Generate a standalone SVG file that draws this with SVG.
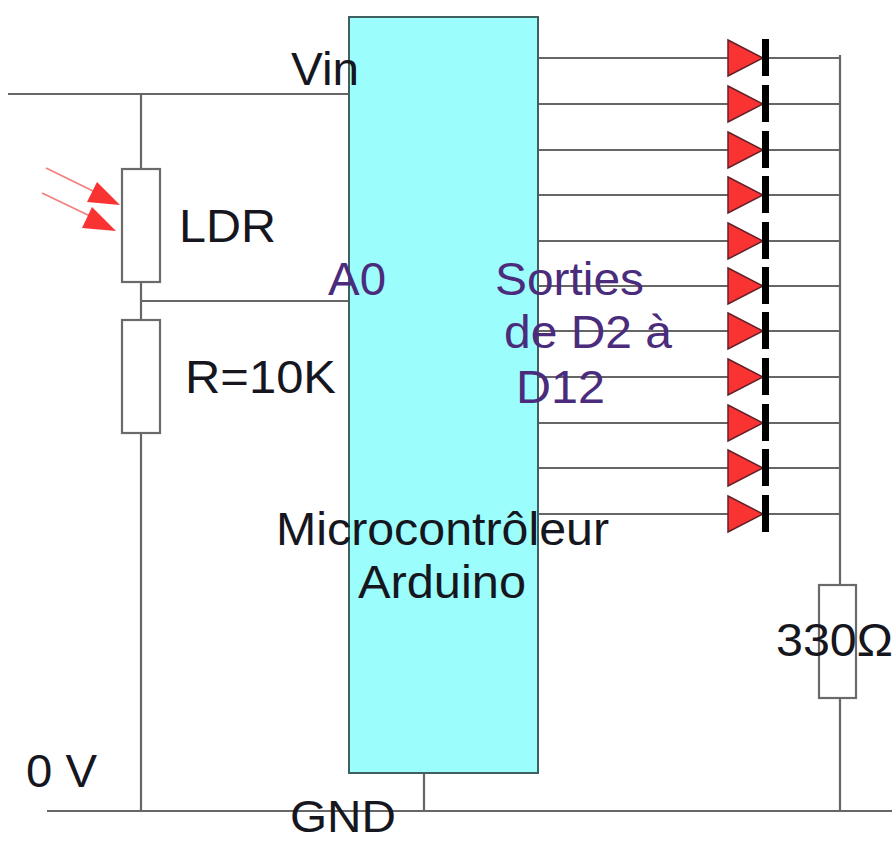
<svg xmlns="http://www.w3.org/2000/svg" width="894" height="842" viewBox="0 0 894 842">
<defs>
<style>
.w{fill:none;stroke:#666;stroke-width:2.2}
.b{fill:#fff;stroke:#6a6a6a;stroke-width:2.2}
.t{font-family:"Liberation Sans",Arial,sans-serif;font-size:46px;fill:#16161e}
.p{font-family:"Liberation Sans",Arial,sans-serif;font-size:46px;fill:#4b2c7c}
.ray{stroke:#f2807f;stroke-width:1.8;fill:none}
.head{fill:#f93232}
.tri{fill:#f93232;stroke:#63202a;stroke-width:1.5}
.bar{fill:#000}
</style>
<g id="led">
<polygon class="tri" points="0,-18 35,0 0,18"/>
<rect class="bar" x="34" y="-19" width="7" height="37"/>
</g>
</defs>
<g id="connectors">
<path class="w" d="M8 94H350M141 94V169M141 282V320M141 301H350M141 433V811M47 811H892M424 773V811M840 55V585M840 698V811"/>
<path class="w" d="M538 58H728M765 58H840M538 104H728M765 104H840M538 150H728M765 150H840M538 195H728M765 195H840M538 241H728M765 241H840M538 286H728M765 286H840M538 331H728M765 331H840M538 377H728M765 377H840M538 423H728M765 423H840M538 468H728M765 468H840M538 514H728M765 514H840"/>
</g>
<g id="arduino"><rect x="349" y="17" width="189" height="756" fill="#9cfdfd" stroke="#3f5f60" stroke-width="2"/></g>
<g id="ldr">
<rect class="b" x="122" y="169" width="38" height="113"/>
<path class="ray" d="M46 168L95 192M42 193L90 216"/>
<polygon class="head" points="97,182 120,205 87,202"/>
<polygon class="head" points="92,207 116,231 82,228"/>
</g>
<g id="r10k"><rect class="b" x="122" y="320" width="38" height="113"/></g>
<g id="r330"><rect class="b" x="819" y="585" width="37" height="113"/></g>
<g id="leds">
<use href="#led" x="728" y="58"/><use href="#led" x="728" y="104"/><use href="#led" x="728" y="150"/><use href="#led" x="728" y="195"/><use href="#led" x="728" y="241"/><use href="#led" x="728" y="286"/><use href="#led" x="728" y="331"/><use href="#led" x="728" y="377"/><use href="#led" x="728" y="423"/><use href="#led" x="728" y="468"/><use href="#led" x="728" y="514"/>
</g>
<g id="labels">
<text class="t" x="291" y="85" textLength="68" lengthAdjust="spacingAndGlyphs">Vin</text>
<text class="t" x="179" y="242" textLength="97" lengthAdjust="spacingAndGlyphs">LDR</text>
<text class="t" x="185" y="393" textLength="151" lengthAdjust="spacingAndGlyphs">R=10K</text>
<text class="t" x="276" y="545" textLength="333" lengthAdjust="spacingAndGlyphs">Microcontrôleur</text>
<text class="t" x="358" y="598" textLength="168" lengthAdjust="spacingAndGlyphs">Arduino</text>
<text class="t" x="776" y="656" textLength="117" lengthAdjust="spacingAndGlyphs">330Ω</text>
<text class="t" x="26" y="787" textLength="71" lengthAdjust="spacingAndGlyphs">0 V</text>
<text class="t" x="290" y="832" textLength="106" lengthAdjust="spacingAndGlyphs" style="font-size:44px">GND</text>
<text class="p" x="328" y="295" textLength="58" lengthAdjust="spacingAndGlyphs">A0</text>
<text class="p" x="495" y="295" textLength="149" lengthAdjust="spacingAndGlyphs">Sorties</text>
<text class="p" x="504" y="348" textLength="168" lengthAdjust="spacingAndGlyphs">de D2 à</text>
<text class="p" x="516" y="403" textLength="89" lengthAdjust="spacingAndGlyphs">D12</text>
</g>
</svg>
